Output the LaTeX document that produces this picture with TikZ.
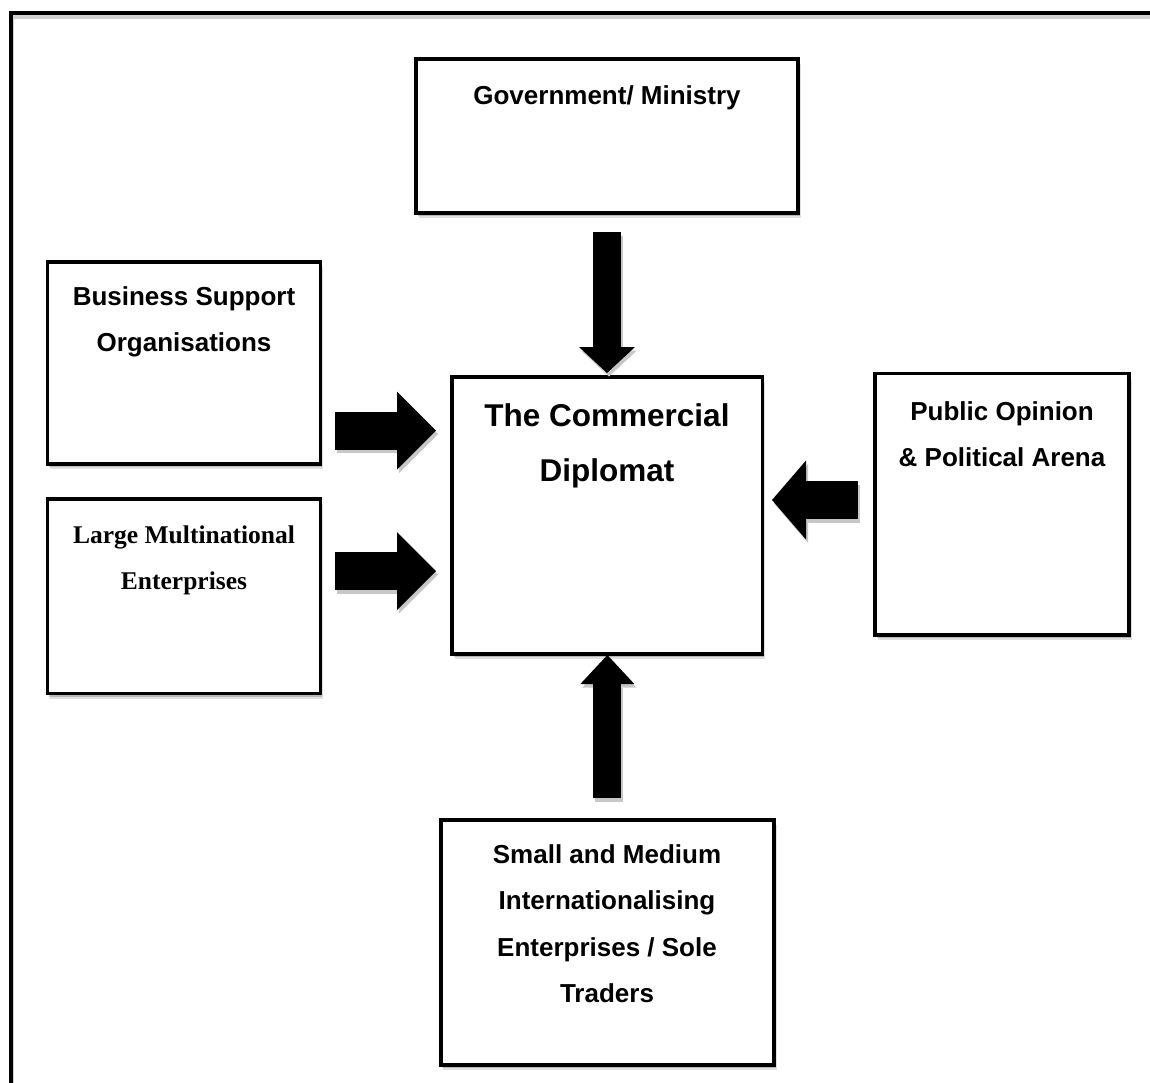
\documentclass[tikz,border=0pt]{standalone}
\usepackage{fontspec}
\setmainfont{Liberation Sans}
\newfontfamily\timesf{Liberation Serif}
\usetikzlibrary{arrows.meta,shadows}
\tikzset{
  boxnode/.style={draw=black, line width=3.7pt, fill=white, inner sep=0pt, outer sep=0pt,
    general shadow={shadow xshift=2.5pt, shadow yshift=-5pt, fill=black, opacity=0.12},
    general shadow={shadow xshift=1.5pt, shadow yshift=-3pt, fill=black, opacity=0.18}},
  lbl/.style={anchor=north, inner sep=0pt, outer sep=0pt, align=center, text=black},
  sansf/.style={font=\fontsize{26}{46.5}\selectfont\bfseries},
  bigf/.style={font=\fontsize{31.5}{55}\selectfont\bfseries},
  seriff/.style={font=\timesf\fontsize{25.5}{46}\selectfont\bfseries},
  barrow/.style={draw=black, line cap=butt},
  bshadow/.style={draw=black!22, transform canvas={shift={(2pt,-3.5pt)}}},
}
\begin{document}
\begin{tikzpicture}[x=1pt,y=-1pt]
\useasboundingbox (0,0) rectangle (1150,1082);
\clip (0,0) rectangle (1150,1082);
\fill[white] (0,0) rectangle (1150,1082);
% outer frame
\draw[black!18, line width=4pt, transform canvas={shift={(1.5pt,-4pt)}}] (10.5,1100) -- (10.5,12.5) -- (1170,12.5);
\draw[black, line width=4pt] (10.5,1100) -- (10.5,12.5) -- (1170,12.5);

% boxes
\node[boxnode, minimum width=382pt, minimum height=154pt] (gov) at (607,136) {};
\node[boxnode, minimum width=310.5pt, minimum height=277pt] (dip) at (607.25,515.5) {};
\node[boxnode, minimum width=273pt, minimum height=202pt] (bso) at (184,363) {};
\node[boxnode, minimum width=273pt, minimum height=194.5pt] (lme) at (184,596.25) {};
\node[boxnode, minimum width=253.7pt, minimum height=261.5pt] (pub) at (1002.15,504.25) {};
\node[boxnode, minimum width=333.3pt, minimum height=245pt] (sme) at (607.35,942.5) {};

% texts
\node[lbl, sansf] (gov-t) at (607,80) {\rule{0pt}{24pt}Government/ Ministry};
\node[lbl, bigf] (dip-t) at (607,402) {\rule{0pt}{24pt}The Commercial\\Diplomat};
\node[lbl, sansf] (bso-t) at (184,281) {\rule{0pt}{24pt}Business Support\\Organisations};
\node[lbl, seriff] (lme-t) at (184,519) {\rule{0pt}{24pt}Large Multinational\\Enterprises};
\node[lbl, sansf] (pub-t) at (1002,396) {\rule{0pt}{24pt}Public Opinion\\\& Political Arena};
\node[lbl, sansf] (sme-t) at (607,839) {\rule{0pt}{24pt}Small and Medium\\Internationalising\\Enterprises / Sole\\Traders};

% arrow anchor coordinates
\coordinate (r1s) at ([yshift=-67.5pt]bso.east);
\coordinate (r2s) at ([yshift=25.25pt]lme.east);
\coordinate (lfs) at ([yshift=4.25pt]pub.west);

% arrows: shadows
\begin{scope}[bshadow]
\draw[line width=28pt, shorten <=19pt, shorten >=4pt, -{Triangle[length=26pt,width=56pt,line width=0pt]}] (gov.south) -- (gov.south |- dip.north);
\draw[line width=28pt, shorten <=22pt, shorten >=1pt, -{Triangle[length=29pt,width=54pt,line width=0pt]}] (sme.north) -- (sme.north |- dip.south);
\draw[line width=38pt, shorten <=14.5pt, shorten >=16pt, -{Triangle[length=39pt,width=78pt,line width=0pt]}] (r1s) -- (dip.west |- r1s);
\draw[line width=38pt, shorten <=14.5pt, shorten >=16pt, -{Triangle[length=39pt,width=78pt,line width=0pt]}] (r2s) -- (dip.west |- r2s);
\draw[line width=38pt, shorten <=17.3pt, shorten >=9.5pt, -{Triangle[length=34pt,width=79pt,line width=0pt]}] (lfs) -- (dip.east |- lfs);
\end{scope}
% arrows
\draw[barrow, line width=28pt, shorten <=19pt, shorten >=4pt, -{Triangle[length=26pt,width=56pt,line width=0pt]}] (gov.south) -- (gov.south |- dip.north);
\draw[barrow, line width=28pt, shorten <=22pt, shorten >=1pt, -{Triangle[length=29pt,width=54pt,line width=0pt]}] (sme.north) -- (sme.north |- dip.south);
\draw[barrow, line width=38pt, shorten <=14.5pt, shorten >=16pt, -{Triangle[length=39pt,width=78pt,line width=0pt]}] (r1s) -- (dip.west |- r1s);
\draw[barrow, line width=38pt, shorten <=14.5pt, shorten >=16pt, -{Triangle[length=39pt,width=78pt,line width=0pt]}] (r2s) -- (dip.west |- r2s);
\draw[barrow, line width=38pt, shorten <=17.3pt, shorten >=9.5pt, -{Triangle[length=34pt,width=79pt,line width=0pt]}] (lfs) -- (dip.east |- lfs);
\end{tikzpicture}
\end{document}
